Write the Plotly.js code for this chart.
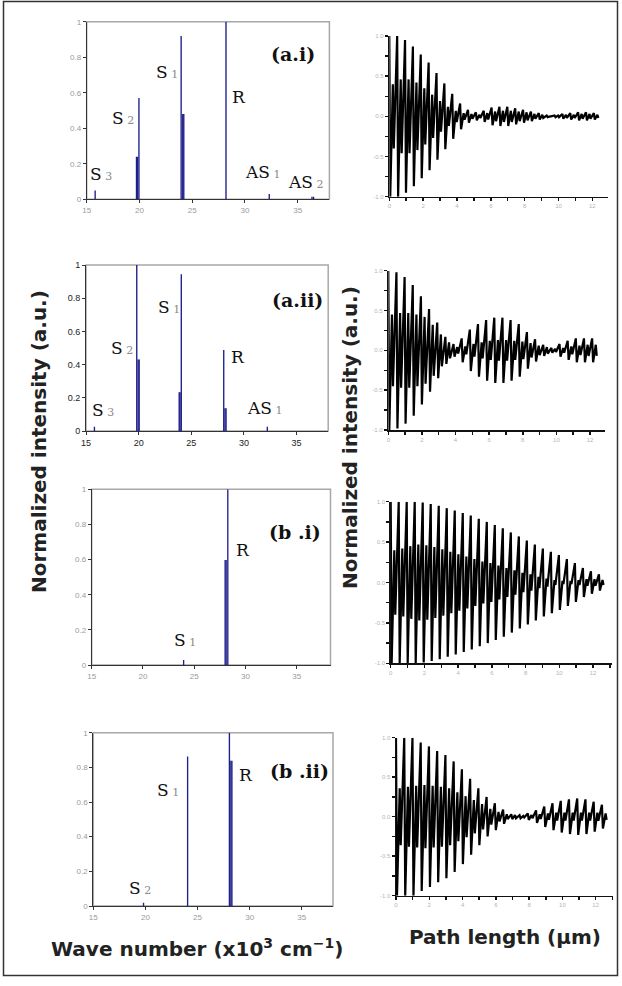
<!DOCTYPE html>
<html><head><meta charset="utf-8">
<script src="https://cdn.plot.ly/plotly-3.0.1.min.js"></script>
<style>html,body{margin:0;padding:0;background:#fff;}#plot{width:622px;height:986px;}</style>
</head><body><div id="plot"></div>
<script>
// ---------- spectra (wave number x10^3 cm^-1, normalized intensity) ----------
const aiWave  = [15.8, 19.72, 19.82, 19.95, 23.95, 24.1, 24.2, 28.2, 32.3, 36.35, 36.5];
const aiInt   = [0.05, 0.24, 0.24, 0.57, 0.92, 0.48, 0.48, 1.0, 0.03, 0.015, 0.015];
const aiiWave = [15.8, 19.82, 19.95, 20.05, 23.85, 23.93, 24.05, 28.08, 28.2, 28.3, 32.22];
const aiiInt  = [0.026, 1.0, 0.43, 0.43, 0.233, 0.233, 0.944, 0.488, 0.137, 0.137, 0.026];
const biWave  = [23.97, 28.02, 28.12, 28.28];
const biInt   = [0.028, 0.598, 0.598, 1.0];
const biiWave = [19.82, 24.05, 28.06, 28.2, 28.3];
const biiInt  = [0.019, 0.862, 1.0, 0.838, 0.838];

// ---------- interferograms: envelope read per fringe period ----------
const aiPeriod = 0.465, aiiPeriod = 0.485, biPeriod = 0.475, biiPeriod = 0.495;
const aiOuter  = [1.0,1.0,0.95,0.87,0.77,0.67,0.54,0.41,0.28,0.16,0.08,0.05,0.07,0.11,0.12,0.12,0.1,0.08,0.06,0.04,0.01,0.01,0.03,0.04,0.05,0.05,0.04];
const aiInner  = [0.4,0.46,0.46,0.42,0.35,0.27,0.19,0.12,0.07,0.04,0.03,0.02,0.04,0.06,0.07,0.07,0.06,0.05,0.03,0.02,0.0,0.01,0.02,0.02,0.03,0.03,0.02];
const aiiOuter = [1.0,0.98,0.92,0.82,0.68,0.52,0.35,0.17,0.08,0.15,0.26,0.33,0.38,0.41,0.41,0.38,0.33,0.23,0.14,0.07,0.03,0.08,0.12,0.15,0.15,0.15];
const aiiInner = [0.45,0.47,0.47,0.45,0.42,0.32,0.2,0.1,0.04,0.05,0.08,0.1,0.12,0.13,0.13,0.12,0.11,0.09,0.06,0.04,0.02,0.03,0.05,0.06,0.07,0.07];
const biOuter  = [1.0,1.0,1.0,1.0,0.99,0.97,0.95,0.92,0.89,0.86,0.83,0.79,0.75,0.71,0.67,0.62,0.57,0.52,0.47,0.42,0.38,0.34,0.29,0.24,0.18,0.14,0.1];
const biInner  = [0.4,0.42,0.45,0.47,0.46,0.44,0.41,0.38,0.35,0.32,0.29,0.26,0.24,0.21,0.18,0.15,0.12,0.1,0.07,0.05,0.03,0.02,0.02,0.03,0.04,0.04,0.03];
const biiOuter = [1.0,1.0,1.0,0.94,0.89,0.83,0.78,0.7,0.6,0.48,0.36,0.25,0.17,0.09,0.03,0.02,0.04,0.08,0.13,0.17,0.2,0.22,0.23,0.22,0.19,0.15];
const biiInner = [0.36,0.38,0.39,0.4,0.39,0.38,0.36,0.31,0.26,0.21,0.16,0.1,0.06,0.03,0.02,0.01,0.02,0.03,0.04,0.05,0.05,0.05,0.05,0.05,0.05,0.04];

// ---------- tick labels ----------
const specXTicks = [15, 20, 25, 30, 35];
const specYTicks = [0, 0.2, 0.4, 0.6, 0.8, 1];
const specYText  = ['0', '0.2', '0.4', '0.6', '0.8', '1'];
const pathXTicks = [0, 2, 4, 6, 8, 10, 12];
const pathYTicks = [-1, -0.5, 0, 0.5, 1];
const pathYText  = ['-1.0', '-0.5', '0.0', '0.5', '1.0'];

const W = 622, H = 986;
const fx = p => p / W, fy = p => 1 - p / H;
const NAVY = '#1f1f8c';
const SANS = 'Liberation Sans, Arial, sans-serif';
const SERIF = 'DejaVu Serif, serif';
const TITLE = 'DejaVu Sans, sans-serif';

// sample positions inside one fringe period (fraction of the period)
const PHASE = [0, 0.12, 0.45, 0.57];
function fringe(outer, inner, period) {
  const x = [], y = [];
  for (let k = 0; k < outer.length; k++) {
    const vals = [outer[k], -outer[k], inner[k], -inner[k]];
    for (let j = 0; j < 4; j++) { x.push((k + PHASE[j]) * period); y.push(vals[j]); }
  }
  return {x, y};
}

const data = [];
const layout = {
  width: W, height: H, margin: {l:0, r:0, t:0, b:0},
  paper_bgcolor: '#fff', plot_bgcolor: 'rgba(0,0,0,0)', showlegend: false,
  shapes: [], annotations: []
};

// left panels: [n, x0px, x1px, yTopPx (value 1), yBotPx (value 0), xmax, dark labels]
const specPanels = [
  [1, 86.7, 329.4, 21.7, 199.3, 38.0, false, aiWave, aiInt],
  [3, 86.0, 328.2, 265.0, 431.0, 38.0, true, aiiWave, aiiInt],
  [5, 91.7, 330.5, 489.3, 665.0, 38.3, false, biWave, biInt],
  [7, 93.3, 333.0, 732.7, 906.0, 38.0, false, biiWave, biiInt]
];
specPanels.forEach(([n, x0, x1, yt, yb, xmax, dark, wx, wy]) => {
  const lab = {size: dark ? 9 : 8, color: dark ? '#222' : '#9a9a9a', family: SANS};
  layout['xaxis' + n] = {domain:[fx(x0), fx(x1)], range:[15, xmax], anchor:'y' + n,
    tickvals: specXTicks, ticks:'outside', ticklen:3, tickcolor:'#333', tickwidth:1,
    showline:true, linecolor:'#333', linewidth:1, showgrid:false, zeroline:false, tickfont: lab, fixedrange:true};
  layout['yaxis' + n] = {domain:[fy(yb), fy(yt)], range:[0, 1], anchor:'x' + n,
    tickvals: specYTicks, ticktext: specYText, ticks:'outside', ticklen:3, tickcolor:'#333', tickwidth:1,
    showline:true, linecolor:'#333', linewidth:1, showgrid:false, zeroline:false, tickfont: lab, fixedrange:true};
  layout.shapes.push({type:'rect', xref:'x' + n + ' domain', yref:'y' + n + ' domain', x0:0, x1:1, y0:0, y1:1,
    line:{color:'#a8a8a8', width:1.5}, layer:'below'});
  data.push({type:'bar', x: wx, y: wy, width: 0.13, marker:{color: NAVY, line:{width:0}},
    xaxis:'x' + n, yaxis:'y' + n, hoverinfo:'skip'});
});

// right panels: [n, x0px (value 0), px per unit, axis end px, yTopPx (1), yBotPx (-1)]
const pathPanels = [
  [2, 389.3, 16.92, 608.0, 36.0, 196.7, aiOuter, aiInner, aiPeriod],
  [4, 388.3, 16.81, 605.0, 270.7, 430.0, aiiOuter, aiiInner, aiiPeriod],
  [6, 390.7, 16.86, 611.7, 501.7, 663.3, biOuter, biInner, biPeriod],
  [8, 396.0, 16.64, 613.3, 737.7, 895.7, biiOuter, biiInner, biiPeriod]
];
pathPanels.forEach(([n, x0, ppu, xe, yt, yb, outer, inner, period]) => {
  const lab = {size: 6, color:'#b5b5b5', family: SANS};
  const minorT = {ticks:'outside', ticklen:3, tickwidth:1.5, tickcolor:'#111', showgrid:false};
  layout['xaxis' + n] = {domain:[fx(x0), fx(xe)], range:[0, (xe - x0) / ppu], anchor:'y' + n,
    tickvals: pathXTicks, ticks:'outside', ticklen:3, tickwidth:1.5, tickcolor:'#111',
    minor: Object.assign({dtick: 1, tick0: 0}, minorT),
    showline:true, linecolor:'#111', linewidth:1.5, showgrid:false, zeroline:false, tickfont: lab, fixedrange:true};
  layout['yaxis' + n] = {domain:[fy(yb), fy(yt)], range:[-1, 1], anchor:'x' + n,
    tickvals: pathYTicks, ticktext: pathYText, ticks:'outside', ticklen:3, tickwidth:1.5, tickcolor:'#111',
    minor: Object.assign({dtick: 0.25, tick0: 0}, minorT),
    showline:true, linecolor:'#111', linewidth:1.5, showgrid:false, zeroline:false, tickfont: lab, fixedrange:true};
  const f = fringe(outer, inner, period);
  data.push({type:'scatter', mode:'lines', x: f.x, y: f.y, line:{color:'#000', width:2.2},
    xaxis:'x' + n, yaxis:'y' + n, hoverinfo:'skip'});
});

// outer frame
layout.shapes.push({type:'rect', xref:'paper', yref:'paper', x0:fx(3.5), x1:fx(617.5), y0:fy(975.5), y1:fy(1.5),
  line:{color:'#333', width:1.5}});

// text labels
function ann(text, x, y, size, opts) {
  layout.annotations.push(Object.assign({text, x: fx(x), y: fy(y), xref:'paper', yref:'paper',
    showarrow:false, xanchor:'center', yanchor:'middle', font:{family: SERIF, size, color:'#111'}}, opts || {}));
}
const sub = d => '<span style="font-size:11px;color:#8a8a8a"> ' + d + '</span>';
const PS = 17, TS = 19;
// (a.i)
ann('<b>(a.i)</b>', 293, 54, TS);
ann('S' + sub('1'), 167, 72, PS);
ann('R', 239, 97, PS);
ann('S' + sub('2'), 123, 118, PS);
ann('S' + sub('3'), 101, 174, PS);
ann('AS' + sub('1'), 262, 172, PS);
ann('AS' + sub('2'), 305, 182, PS);
// (a.ii)
ann('<b>(a.ii)</b>', 297, 300, TS);
ann('S' + sub('1'), 169, 307, PS);
ann('S' + sub('2'), 122, 348, PS);
ann('R', 238, 357, PS);
ann('S' + sub('3'), 103, 410, PS);
ann('AS' + sub('1'), 264, 408, PS);
// (b.i)
ann('<b>(b .i)</b>', 295, 532, TS);
ann('R', 243, 550, PS);
ann('S' + sub('1'), 185, 640, PS);
// (b.ii)
ann('<b>(b .ii)</b>', 299, 771, TS);
ann('R', 246, 775, PS);
ann('S' + sub('1'), 168, 790, PS);
ann('S' + sub('2'), 140, 888, PS);

// axis titles
const tfont = {family: TITLE, size: 20, color:'#222'};
ann('<b>Normalized intensity (a.u.)</b>', 39, 442, 20, {textangle:-90, font: tfont});
ann('<b>Normalized intensity (a.u.)</b>', 350, 438, 20, {textangle:-90, font: tfont});
ann('<b>Wave number (x10<sup>3</sup> cm<sup>−1</sup>)</b>', 197, 948, 20, {font: tfont});
ann('<b>Path length (µm)</b>', 505, 937, 20, {font: tfont});

Plotly.newPlot('plot', data, layout, {staticPlot:true, displayModeBar:false});
</script></body></html>
